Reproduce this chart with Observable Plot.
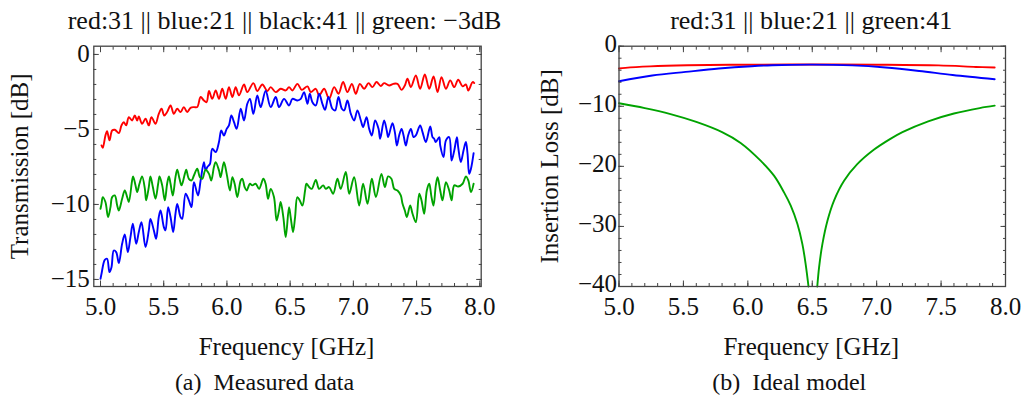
<!DOCTYPE html>
<html><head><meta charset="utf-8">
<script src="https://cdn.jsdelivr.net/npm/d3@7"></script>
<script src="https://cdn.jsdelivr.net/npm/@observablehq/plot@0.6"></script>
<style>
html,body{margin:0;padding:0;background:#fff;}
#wrap{position:relative;width:1024px;height:405px;overflow:hidden;background:#fff;}
#wrap > div{position:absolute;top:0;width:512px;height:405px;}
svg{overflow:visible;}
#wrap svg, #wrap svg text{font-family:"Liberation Serif","Times New Roman",serif !important;}
</style></head><body>
<div id="wrap"><div id="pa" style="left:0"></div><div id="pb" style="left:512px"></div></div>
<script>
// ---------- data (frequency GHz, dB) ----------
const measuredRed = [[5.008,-6.07],[5.018,-6.22],[5.039,-5.40],[5.052,-5.11],[5.071,-5.73],[5.092,-5.07],[5.113,-5.02],[5.145,-5.24],[5.166,-4.73],[5.184,-4.51],[5.203,-4.73],[5.224,-4.18],[5.250,-4.40],[5.271,-4.07],[5.290,-4.40],[5.303,-4.13],[5.329,-4.62],[5.356,-4.29],[5.382,-4.73],[5.403,-4.18],[5.435,-4.62],[5.461,-3.96],[5.483,-3.62],[5.504,-4.07],[5.527,-3.84],[5.554,-3.40],[5.580,-3.96],[5.607,-3.62],[5.633,-3.84],[5.659,-3.51],[5.686,-3.84],[5.712,-3.56],[5.739,-3.51],[5.765,-3.51],[5.792,-2.84],[5.818,-3.07],[5.839,-3.18],[5.858,-2.44],[5.884,-2.96],[5.911,-2.40],[5.937,-2.96],[5.963,-2.29],[5.990,-2.96],[6.016,-2.18],[6.043,-2.84],[6.069,-2.18],[6.095,-2.73],[6.135,-2.00],[6.161,-2.51],[6.209,-1.91],[6.240,-2.44],[6.280,-2.00],[6.320,-2.44],[6.346,-2.18],[6.386,-2.51],[6.425,-2.29],[6.465,-2.40],[6.491,-2.18],[6.518,-2.40],[6.557,-1.96],[6.592,-2.36],[6.637,-2.13],[6.663,-2.51],[6.703,-2.29],[6.729,-2.73],[6.769,-2.29],[6.808,-2.96],[6.848,-2.18],[6.882,-2.62],[6.919,-1.84],[6.953,-2.51],[6.988,-1.96],[7.019,-2.62],[7.051,-1.96],[7.085,-2.29],[7.120,-1.91],[7.151,-2.18],[7.183,-1.84],[7.217,-2.10],[7.243,-1.91],[7.283,-2.07],[7.317,-1.96],[7.349,-1.96],[7.381,-2.36],[7.407,-2.07],[7.428,-1.62],[7.455,-2.18],[7.494,-1.40],[7.528,-2.29],[7.565,-1.33],[7.600,-2.29],[7.634,-1.47],[7.666,-2.51],[7.697,-1.51],[7.732,-2.29],[7.766,-1.73],[7.798,-2.18],[7.829,-1.69],[7.864,-2.13],[7.890,-2.00],[7.909,-2.40],[7.943,-1.84],[7.956,-1.91]];

const measuredBlue = [[5.000,-14.96],[5.008,-14.62],[5.034,-13.69],[5.052,-13.62],[5.071,-14.51],[5.087,-14.18],[5.105,-13.07],[5.124,-13.18],[5.145,-13.91],[5.171,-12.62],[5.192,-12.00],[5.216,-13.18],[5.237,-12.18],[5.256,-11.29],[5.282,-12.62],[5.303,-11.84],[5.324,-11.18],[5.356,-12.84],[5.382,-11.73],[5.395,-10.96],[5.422,-11.73],[5.440,-12.29],[5.461,-10.84],[5.475,-10.40],[5.501,-11.51],[5.514,-11.73],[5.535,-10.18],[5.554,-10.84],[5.575,-11.84],[5.593,-10.62],[5.607,-9.96],[5.633,-10.84],[5.646,-10.96],[5.673,-9.29],[5.699,-9.73],[5.720,-10.18],[5.739,-8.51],[5.771,-9.40],[5.792,-8.40],[5.818,-7.18],[5.831,-7.73],[5.845,-7.51],[5.866,-7.29],[5.884,-6.29],[5.911,-6.51],[5.937,-5.84],[5.955,-5.07],[5.976,-5.40],[5.998,-4.96],[6.016,-4.73],[6.035,-4.07],[6.056,-4.51],[6.077,-4.96],[6.109,-3.62],[6.135,-4.40],[6.161,-3.29],[6.182,-2.96],[6.209,-3.96],[6.240,-2.73],[6.267,-3.51],[6.306,-2.44],[6.346,-3.51],[6.386,-2.84],[6.412,-3.51],[6.452,-2.96],[6.491,-3.40],[6.518,-2.96],[6.557,-3.07],[6.584,-2.96],[6.610,-2.51],[6.637,-3.29],[6.655,-2.62],[6.676,-3.18],[6.703,-3.40],[6.729,-2.62],[6.755,-3.29],[6.776,-3.69],[6.803,-2.84],[6.834,-3.62],[6.856,-3.73],[6.882,-2.84],[6.909,-3.62],[6.927,-3.73],[6.953,-3.07],[6.980,-3.96],[7.006,-4.40],[7.032,-3.73],[7.059,-4.40],[7.077,-4.84],[7.104,-4.18],[7.125,-4.96],[7.146,-5.40],[7.172,-4.40],[7.199,-4.96],[7.212,-5.62],[7.243,-4.40],[7.264,-5.07],[7.275,-5.51],[7.309,-4.58],[7.328,-5.18],[7.344,-6.07],[7.362,-5.40],[7.381,-4.96],[7.397,-5.40],[7.415,-6.07],[7.433,-5.40],[7.455,-4.96],[7.476,-5.51],[7.494,-5.40],[7.528,-4.73],[7.547,-5.18],[7.573,-5.84],[7.608,-4.80],[7.626,-5.51],[7.639,-5.62],[7.652,-5.84],[7.679,-5.51],[7.687,-6.07],[7.713,-6.84],[7.732,-5.73],[7.758,-5.51],[7.777,-7.07],[7.798,-6.40],[7.819,-5.51],[7.829,-6.18],[7.850,-7.18],[7.871,-6.40],[7.890,-5.84],[7.903,-6.62],[7.916,-7.96],[7.930,-7.62],[7.951,-6.58]];

const measuredGreen = [[5.000,-10.29],[5.008,-9.96],[5.018,-9.51],[5.039,-9.84],[5.060,-10.84],[5.079,-10.18],[5.092,-9.51],[5.113,-9.40],[5.132,-10.07],[5.145,-10.40],[5.171,-9.62],[5.192,-9.07],[5.211,-9.51],[5.224,-9.84],[5.250,-8.40],[5.258,-8.13],[5.277,-8.73],[5.290,-9.18],[5.308,-8.62],[5.329,-8.13],[5.351,-8.96],[5.361,-9.73],[5.382,-8.84],[5.395,-8.13],[5.414,-8.84],[5.435,-9.62],[5.456,-8.62],[5.467,-8.13],[5.488,-8.73],[5.509,-9.73],[5.527,-8.62],[5.541,-8.13],[5.554,-8.62],[5.572,-9.40],[5.593,-8.18],[5.607,-7.69],[5.625,-8.29],[5.641,-8.73],[5.667,-7.96],[5.678,-7.69],[5.699,-8.29],[5.720,-8.40],[5.739,-8.07],[5.765,-7.62],[5.786,-8.18],[5.805,-8.29],[5.831,-7.69],[5.858,-7.96],[5.876,-8.40],[5.897,-7.51],[5.911,-7.18],[5.937,-7.73],[5.950,-8.18],[5.976,-7.18],[5.998,-7.96],[6.024,-9.07],[6.043,-8.18],[6.061,-8.62],[6.082,-9.51],[6.109,-8.40],[6.122,-8.29],[6.140,-8.84],[6.156,-9.07],[6.182,-8.62],[6.201,-8.73],[6.227,-8.62],[6.254,-8.96],[6.288,-8.29],[6.306,-8.62],[6.325,-9.62],[6.346,-8.96],[6.372,-9.51],[6.393,-11.07],[6.412,-10.40],[6.425,-9.84],[6.446,-10.84],[6.465,-12.18],[6.491,-10.18],[6.504,-10.84],[6.523,-11.84],[6.539,-10.84],[6.557,-9.51],[6.576,-9.73],[6.597,-10.07],[6.618,-9.07],[6.629,-8.62],[6.650,-8.84],[6.671,-8.96],[6.703,-8.36],[6.729,-8.96],[6.761,-8.73],[6.782,-8.96],[6.808,-8.84],[6.840,-9.29],[6.874,-8.29],[6.900,-8.96],[6.940,-7.84],[6.967,-9.29],[7.006,-8.18],[7.046,-10.07],[7.077,-8.62],[7.112,-9.96],[7.146,-8.29],[7.178,-9.51],[7.222,-7.96],[7.249,-8.84],[7.275,-8.13],[7.301,-8.29],[7.323,-8.96],[7.349,-9.07],[7.375,-9.40],[7.389,-9.96],[7.407,-10.40],[7.423,-10.84],[7.449,-10.07],[7.468,-10.62],[7.494,-11.18],[7.521,-9.29],[7.539,-9.73],[7.560,-10.62],[7.581,-9.07],[7.600,-8.62],[7.618,-9.51],[7.634,-10.07],[7.652,-8.73],[7.666,-8.18],[7.687,-9.07],[7.705,-9.73],[7.732,-8.51],[7.758,-9.07],[7.777,-9.73],[7.798,-8.73],[7.829,-8.80],[7.864,-8.62],[7.890,-8.13],[7.909,-8.40],[7.930,-9.18],[7.951,-8.62]];

const idealRed = [[5.000,-3.72],[5.050,-3.60],[5.240,-3.36],[5.530,-3.18],[6.000,-3.08],[6.500,-3.04],[7.000,-3.08],[7.480,-3.20],[7.770,-3.45],[7.916,-3.55]];
const idealBlue = [[5.000,-5.83],[5.258,-4.88],[5.517,-4.28],[5.775,-3.72],[6.030,-3.33],[6.190,-3.17],[6.500,-3.07],[6.810,-3.20],[7.070,-3.55],[7.330,-4.12],[7.590,-4.80],[7.916,-5.50]];
const idealGreen = [[5.000,-9.5],[5.200,-10.3],[5.400,-11.3],[5.600,-12.6],[5.800,-14.3],[5.944,-16.1],[6.099,-19.05],[6.203,-21.55],[6.281,-24.33],[6.333,-26.55],[6.385,-29.6],[6.423,-32.9],[6.449,-36.3],[6.471,-40],[6.505,NaN],[6.539,-40],[6.553,-36.8],[6.579,-32.9],[6.618,-29.05],[6.669,-25.7],[6.747,-22.4],[6.851,-19.6],[6.980,-17.2],[7.100,-15.5],[7.200,-14.3],[7.400,-12.5],[7.600,-11.2],[7.800,-10.3],[7.916,-9.9]];

// ---------- ticks & labels ----------
const xMajorTicks = [5.0, 5.5, 6.0, 6.5, 7.0, 7.5, 8.0];
const xMinorTicks = d3.range(50, 81).map(i => i / 10);
const leftYMajor = [-15, -10, -5, 0];
const leftYMinor = d3.range(-15, 1);
const rightYMajor = [-40, -30, -20, -10, 0];
const rightYMinor = d3.range(-40, 1, 2);

const titles = ["red:31 || blue:21 || black:41 || green: \u22123dB", "red:31 || blue:21 || green:41"];
const yLabels = ["Transmission [dB]", "Insertion Loss [dB]"];
const xLabel = "Frequency [GHz]";
const captions = ["(a)\u2002Measured data", "(b)\u2002Ideal model"];

const colors = {red: "#ff0000", blue: "#0000ff", green: "#00a300"};
const FONT = "Liberation Serif";
const FS = 25;
const AX = "#444";

function ticksMarks(xMajor, xMinor, yMajor, yMinor) {
  const common = {stroke: AX, fill: "none", label: null, strokeWidth: 1};
  return [
    Plot.axisX({...common, ticks: xMinor, anchor: "bottom", tickSize: -3}),
    Plot.axisX({...common, ticks: xMajor, anchor: "bottom", tickSize: -5.5}),
    Plot.axisX({...common, ticks: xMinor, anchor: "top", tickSize: -3}),
    Plot.axisX({...common, ticks: xMajor, anchor: "top", tickSize: -5.5}),
    Plot.axisY({...common, ticks: yMinor, anchor: "left", tickSize: -3}),
    Plot.axisY({...common, ticks: yMajor, anchor: "left", tickSize: -5.5}),
    Plot.axisY({...common, ticks: yMinor, anchor: "right", tickSize: -3}),
    Plot.axisY({...common, ticks: yMajor, anchor: "right", tickSize: -5.5})
  ];
}

function panel(o) {
  const t = {fontSize: FS, fontFamily: FONT, fill: "#111"};
  return Plot.plot({
    width: 512, height: 405,
    marginLeft: o.ml, marginRight: o.mr, marginTop: 45.7, marginBottom: 119,
    x: {domain: o.xDomain, label: null},
    y: {domain: o.yDomain, label: null},
    style: {fontFamily: FONT, fontSize: FS + "px", background: "transparent", color: "#111"},
    marks: [
      ...o.lines.map(([data, c]) => Plot.line(data, {x: d => d[0], y: d => d[1], stroke: c, strokeWidth: 1.9, curve: o.curve})),
      Plot.frame({stroke: AX, strokeWidth: 1.3}),
      ...ticksMarks(xMajorTicks, xMinorTicks, o.yMajor, o.yMinor),
      Plot.axisX({ticks: xMajorTicks, anchor: "bottom", tickSize: 0, tickPadding: 11, tickFormat: d3.format(".1f"), label: null, ...t}),
      Plot.axisY({ticks: o.yMajor, anchor: "left", tickSize: 0, tickPadding: o.ytp, dy: o.ydy, tickFormat: d3.format("d"), label: null, ...t}),
      Plot.text([o.title], {text: d => d, frameAnchor: "top", dx: o.tdx, dy: -17.4, lineAnchor: "bottom", ...t, fontSize: 26}),
      Plot.text([xLabel], {text: d => d, frameAnchor: "bottom", dx: -1, dy: 68, lineAnchor: "bottom", ...t}),
      Plot.text([o.yLabel], {text: d => d, frameAnchor: "left", dx: o.ydx, rotate: -90, lineAnchor: "bottom", textAnchor: "middle", ...t}),
      Plot.text([o.caption], {text: d => d, frameAnchor: "bottom", dx: -23, dy: 103, lineAnchor: "bottom", ...t, fontSize: 24, style: "letter-spacing:1.8px"})
    ]
  });
}

const a = panel({
  ml: 93.3, mr: 31.3, xDomain: [4.947, 8.011], yDomain: [-15.47, 0.55],
  yMajor: leftYMajor, yMinor: leftYMinor, ytp: 4, ydy: 0,
  lines: [[measuredRed, colors.red], [measuredBlue, colors.blue], [measuredGreen, colors.green]],
  curve: "catmull-rom", title: titles[0], tdx: -3, yLabel: yLabels[0], ydx: -66, caption: captions[0]
});
const b = panel({
  ml: 106.5, mr: 19, xDomain: [5, 8], yDomain: [-40, 0],
  yMajor: rightYMajor, yMinor: rightYMinor, ytp: 2, ydy: -2.5,
  lines: [[idealRed, colors.red], [idealBlue, colors.blue], [idealGreen, colors.green]],
  curve: "catmull-rom", title: titles[1], tdx: -1, yLabel: yLabels[1], ydx: -61, caption: captions[1]
});
document.getElementById("pa").appendChild(a);
document.getElementById("pb").appendChild(b);
</script></body></html>
